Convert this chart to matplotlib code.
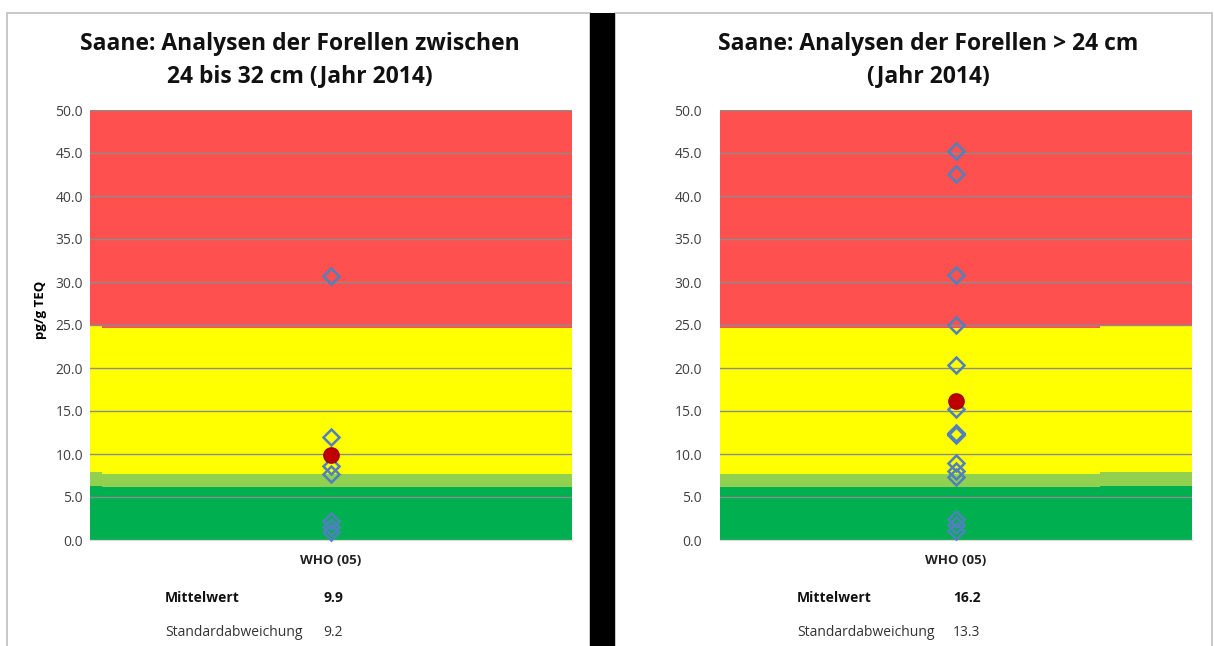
import numpy as np
import matplotlib.pyplot as plt
from matplotlib.patches import Rectangle

plt.rcParams['font.family'] = ['Open Sans', 'DejaVu Sans']

# data
titles = ["Saane: Analysen der Forellen zwischen\n24 bis 32 cm (Jahr 2014)",
          "Saane: Analysen der Forellen > 24 cm\n(Jahr 2014)"]
category = "WHO (05)"
left_values = [30.7, 12.0, 8.6, 7.7, 2.2, 1.5, 0.9]
right_values = [45.2, 42.6, 30.8, 25.0, 20.3, 15.2, 12.5, 12.3, 12.2,
                8.9, 8.0, 7.3, 2.4, 1.7, 1.1]
means = [9.9, 16.2]
stds = [9.2, 13.3]
yticks = np.arange(0, 50.1, 5)
# band limits (dark green, light green, yellow, red); main area and narrow edge strip
band_edges = [0, 6.2, 7.7, 24.7, 50]
strip_edges = [0, 6.3, 7.85, 24.9, 50]
band_colors = ['#00B050', '#92D050', '#FFFF00', '#FF5050']

fig = plt.figure(figsize=(12.14, 6.46), dpi=100)

# panel frames and black separator
fig.add_artist(Rectangle((7/1214, -0.05), 583/1214, 633/646 + 0.05, transform=fig.transFigure,
                         fill=False, ec='#BFBFBF', lw=1.2))
fig.add_artist(Rectangle((615/1214, -0.05), 597/1214, 633/646 + 0.05, transform=fig.transFigure,
                         fill=False, ec='#BFBFBF', lw=1.2))
fig.add_artist(Rectangle((590/1214, 0), 25/1214, 633/646, transform=fig.transFigure,
                         fc='black', ec='none'))

axes_pos = [[90/1214, 106/646, 482/1214, 430/646],
            [720/1214, 106/646, 472/1214, 430/646]]
strip_span = [(0, 0.025), (0.805, 1)]
tick_pad = [5, 13]
title_x = [300/1214, 928/1214]
values_all = [left_values, right_values]
text_x = [165/1214, 797/1214]
num_x = [323/1214, 953/1214]

for i in range(2):
    ax = fig.add_axes(axes_pos[i])
    s0, s1 = strip_span[i]
    for k in range(4):
        # main band area
        if s0 == 0:
            ax.axhspan(band_edges[k], band_edges[k + 1], xmin=s1, xmax=1,
                       color=band_colors[k], lw=0, zorder=0)
        else:
            ax.axhspan(band_edges[k], band_edges[k + 1], xmin=0, xmax=s0,
                       color=band_colors[k], lw=0, zorder=0)
        ax.axhspan(strip_edges[k], strip_edges[k + 1], xmin=s0, xmax=s1,
                   color=band_colors[k], lw=0, zorder=0)
    ax.set_xlim(0, 1)
    ax.set_ylim(0, 50)
    ax.set_yticks(yticks)
    ax.set_yticklabels([f"{v:.1f}" for v in yticks], color='#404040', fontsize=10)
    ax.set_xticks([0.5])
    ax.set_xticklabels([category], fontweight='bold', fontsize=9.5, color='#222222')
    ax.tick_params(axis='y', length=0, pad=tick_pad[i])
    ax.tick_params(axis='x', length=0, pad=10)
    ax.grid(axis='y', color='#8C8C8C', lw=1, zorder=1)
    for s in ax.spines.values():
        s.set_visible(False)
    ax.spines['bottom'].set_visible(True)
    ax.spines['bottom'].set_color('#D9D9D9')
    if i == 0:
        ax.set_ylabel("pg/g TEQ", fontweight='bold', fontsize=9.5)
        ax.yaxis.set_label_coords(-0.09, 0.535)
    vals = values_all[i]
    ax.plot([0.5] * len(vals), vals, ls='none', marker='D', ms=8, mfc='none',
            mec='#4F81BD', mew=1.8, zorder=3, clip_on=False)
    ax.plot([0.5], [means[i]], ls='none', marker='o', ms=11, mfc='#C00000',
            mec='#A00000', mew=1, zorder=4)

    fig.text(title_x[i], 586/646, titles[i], ha='center', va='center',
             fontsize=16.5, fontweight='bold', linespacing=1.4, color='#111111')
    fig.text(text_x[i], 48/646, "Mittelwert", fontsize=10, fontweight='bold',
             va='center', color='#111111')
    fig.text(num_x[i], 48/646, f"{means[i]:.1f}", fontsize=10, fontweight='bold',
             va='center', color='#111111')
    fig.text(text_x[i], 14/646, "Standardabweichung", fontsize=10,
             va='center', color='#333333')
    fig.text(num_x[i], 14/646, f"{stds[i]:.1f}", fontsize=10,
             va='center', color='#333333')

fig.savefig("out.png", dpi=100)
